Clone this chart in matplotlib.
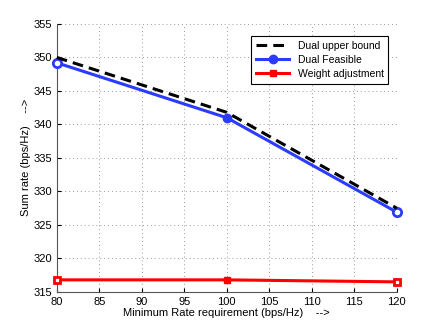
import matplotlib.pyplot as plt

plt.rcParams['font.family'] = ['Liberation Sans', 'DejaVu Sans']

# Data
min_rate = [80, 100, 120]
dual_upper = [350.0, 341.8, 327.5]
dual_feasible = [349.2, 341.0, 326.9]
weight_adj = [316.8, 316.8, 316.5]

blue = '#2b3bff'

fig = plt.figure(figsize=(4.37, 3.28), dpi=100)
ax = fig.add_axes([0.130, 0.110, 0.778, 0.817])

ax.plot(min_rate, dual_upper, linestyle=(0, (3.5, 2)), color='black', linewidth=2.2,
        label='Dual upper bound', zorder=4, clip_on=False)
ax.plot(min_rate, dual_feasible, '-o', color=blue, linewidth=2.2, markersize=6,
        markevery=[1], label='Dual Feasible', zorder=3, clip_on=False)
ax.plot([min_rate[0], min_rate[2]], [dual_feasible[0], dual_feasible[2]], 'o', color=blue,
        markerfacecolor='white', markeredgewidth=2, markersize=6, zorder=3, clip_on=False)
ax.plot(min_rate, weight_adj, '-s', color='red', linewidth=2.2, markersize=5,
        markevery=[1], label='Weight adjustment', zorder=3, clip_on=False)
ax.plot([min_rate[0], min_rate[2]], [weight_adj[0], weight_adj[2]], 's', color='red',
        markerfacecolor='white', markeredgewidth=2, markersize=5, zorder=3, clip_on=False)

ax.set_xlim(80, 120)
ax.set_ylim(315, 355)
ax.set_xticks(range(80, 121, 5))
ax.set_yticks(range(315, 356, 5))
ax.tick_params(labelsize=8, direction='in', length=3)
ax.grid(True, linestyle=(0, (1, 3)), color='#999999', linewidth=0.7)

for s in ['top', 'right']:
    ax.spines[s].set_visible(False)
for s in ['left', 'bottom']:
    ax.spines[s].set_color('#555555')

ax.set_xlabel('Minimum Rate requirement (bps/Hz)    -->', fontsize=8, labelpad=1)
ax.set_ylabel('Sum rate (bps/Hz)    -->', fontsize=8, labelpad=2)

leg = ax.legend(loc='upper right', bbox_to_anchor=(0.99, 0.975), fontsize=7.5,
                fancybox=False, edgecolor='black', framealpha=1, borderpad=0.45,
                handlelength=3.2, labelspacing=0.4)
leg.get_frame().set_linewidth(0.8)

plt.savefig('out.png', dpi=100)
